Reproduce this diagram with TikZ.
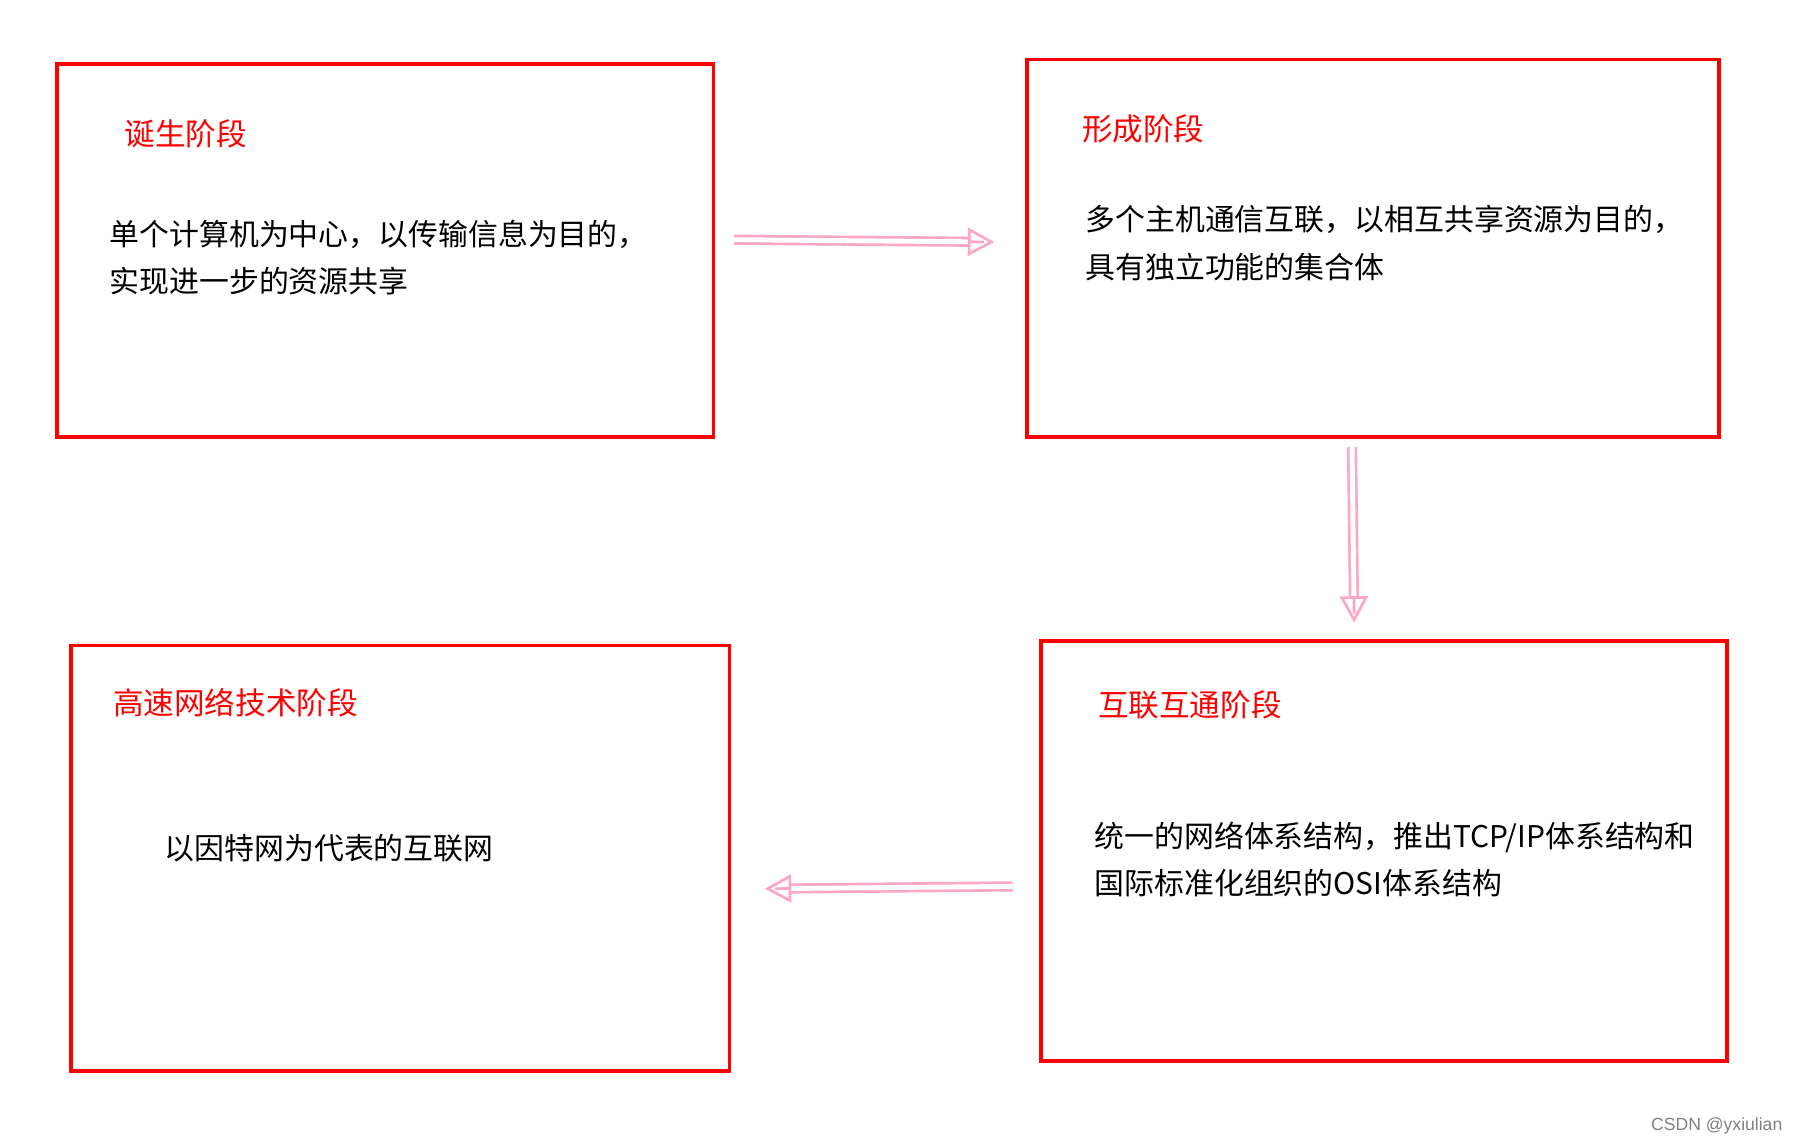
\documentclass[tikz,border=0pt]{standalone}
\usepackage{fontspec}
\setmainfont{Liberation Sans}
\newfontfamily\cjk{Noto Sans CJK SC}
\usetikzlibrary{arrows.meta, calc}

\definecolor{stagered}{RGB}{255,0,0}
\definecolor{flowpink}{RGB}{255,165,198}

\tikzset{
  stage/.style={draw=stagered, line width=1pt, inner sep=0pt},
  title/.style={anchor=west, inner sep=0pt, text=stagered, font=\cjk\fontsize{8.7pt}{10pt}\selectfont},
  body/.style={anchor=west, inner sep=0pt, align=left, font=\cjk\fontsize{8.5pt}{13.4pt}\selectfont},
  flow/.style={draw=flowpink, double=white, double distance=1.4pt, line width=0.75pt, shorten >=7pt},
  flowtip/.style={draw=flowpink, line width=0.75pt, -{Triangle[open, length=7.5pt, width=8pt]}},
}

\begin{document}
\begin{tikzpicture}[x=0.01cm, y=-0.01cm]
    \useasboundingbox (0,0) rectangle (1798,1146);

    % the four stages
    \node[stage, minimum width=6.559cm, minimum height=3.727cm] (birth) at (385.25,250.55) {};
    \node[stage, minimum width=6.915cm, minimum height=3.773cm] (forming) at (1373.15,248.25) {};
    \node[stage, minimum width=6.582cm, minimum height=4.254cm] (highspeed) at (400.2,858.3) {};
    \node[stage, minimum width=6.857cm, minimum height=4.197cm] (interconn) at (1384.05,850.85) {};

    \node[title] (birthtitle) at (123.8,134.2) {诞生阶段};
    \node[body] (birthtext) at (108.9,257.4) {单个计算机为中心，以传输信息为目的，\\实现进一步的资源共享};

    \node[title] (formingtitle) at (1081.3,128.4) {形成阶段};
    \node[body] (formingtext) at (1084.8,243.1) {多个主机通信互联，以相互共享资源为目的，\\具有独立功能的集合体};

    \node[title] (highspeedtitle) at (112.4,702.9) {高速网络技术阶段};
    \node[body] (highspeedtext) at (164,848.6) {以因特网为代表的互联网};

    \node[title] (interconntitle) at (1097.4,705.2) {互联互通阶段};
    \node[body] (interconntext) at (1093.9,859.5) {统一的网络体系结构，推出TCP/IP体系结构和\\国际标准化组织的OSI体系结构};

    % arrows between the stages
    \coordinate (flowAs) at (733.9,239.7);
    \coordinate (flowAe) at (994.2,242);
    \coordinate (flowBs) at (1352,447.2);
    \coordinate (flowBe) at (1354.2,622.6);
    \coordinate (flowCs) at (1012.5,886.4);
    \coordinate (flowCe) at (764.9,888.7);

    \draw[flow] (flowAs) -- (flowAe);
    \draw[flowtip] ($(flowAs)!0.96!(flowAe)$) -- (flowAe);
    \draw[flow] (flowBs) -- (flowBe);
    \draw[flowtip] ($(flowBs)!0.95!(flowBe)$) -- (flowBe);
    \draw[flow] (flowCs) -- (flowCe);
    \draw[flowtip] ($(flowCs)!0.96!(flowCe)$) -- (flowCe);

    \node[anchor=east, inner sep=0pt, text=gray, font=\fontsize{5pt}{6pt}\selectfont] (mark) at (1783,1126) {CSDN @yxiulian};
\end{tikzpicture}
\end{document}
